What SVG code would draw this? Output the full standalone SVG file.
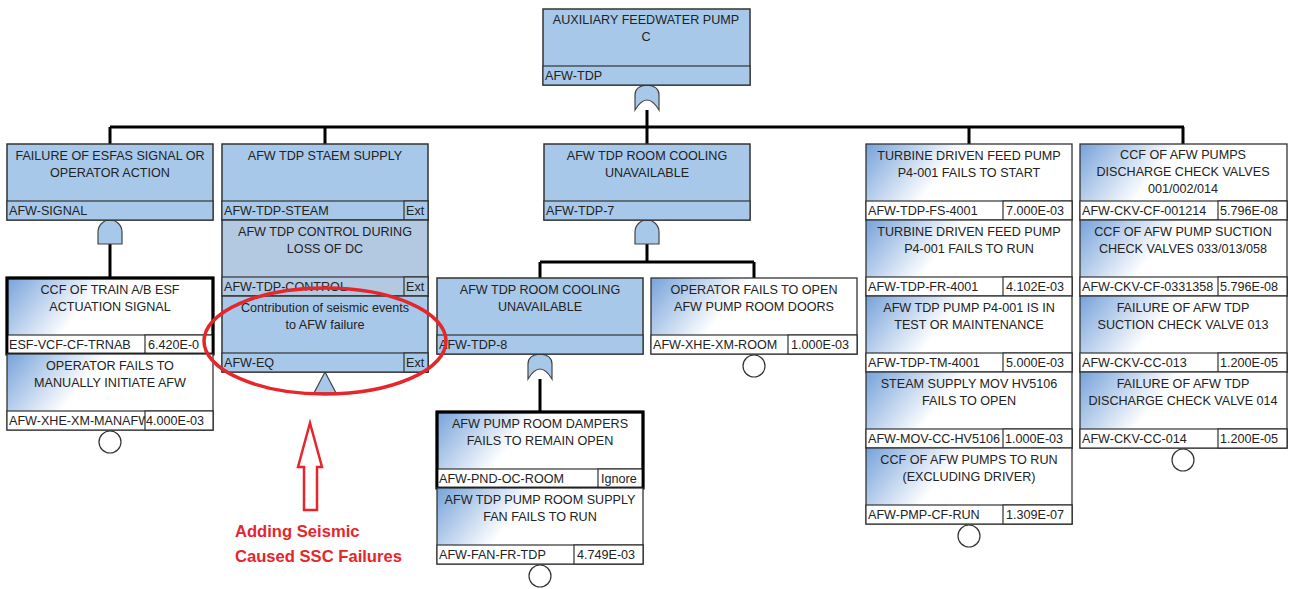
<svg xmlns="http://www.w3.org/2000/svg" xmlns:xlink="http://www.w3.org/1999/xlink" width="1291" height="589" viewBox="0 0 1291 589">
<style>
text{font-family:"Liberation Sans",Arial,sans-serif;font-size:12.6px;fill:#222}
.d{text-anchor:middle}
.gb{fill:#a8c8ea;stroke:#333;stroke-width:1.5}
.gb2{fill:#b3c9e2;stroke:#333;stroke-width:1.5}
.be{fill:url(#grad);stroke:#333;stroke-width:1.3}
.sel{fill:url(#grad);stroke:#000;stroke-width:2.8}
.row{fill:#fff;stroke:#333;stroke-width:1.2}
.grow{fill:#a8c8ea;stroke:#333;stroke-width:1.2}
.grow2{fill:#b3c9e2;stroke:#333;stroke-width:1.2}
.gate{fill:#a8c8ea;stroke:#444;stroke-width:1.2}
.ev{fill:#fff;stroke:#333;stroke-width:1.2}
.con{fill:none;stroke:#000;stroke-width:3}
.ann{fill:none;stroke:#e5262b;stroke-width:3.5}
.arr{fill:#fff;stroke:#e5262b;stroke-width:2.5}
.at{font-family:"Liberation Sans",Arial,sans-serif;font-weight:bold;font-size:16.6px;fill:#e5262b}
</style>
<defs>
<linearGradient id="grad" x1="0" y1="0" x2="1" y2="0.3">
<stop offset="0" stop-color="#76a2da"/>
<stop offset="0.45" stop-color="#ffffff"/>
<stop offset="1" stop-color="#ffffff"/>
</linearGradient>
<path id="and" class="gate" d="M-12,24 L-12,12 A12,12 0 0 1 12,12 L12,24 Z"/>
<path id="or" class="gate" d="M-12,25 L-12,10 Q-12,1 0,0 Q12,1 12,10 L12,25 Q0,5 -12,25 Z"/>
<path id="xfer" class="gate" d="M0,0 L11,21 L-11,21 Z"/>
<circle id="bev" class="ev" r="11"/>
</defs>

<g id="connectors">
<path class="con" d="M647,110 V127 M110,127 H1184 M110,127 V144 M325,127 V144 M647,127 V144 M969,127 V144 M1183,127 V144"/>
<path class="con" d="M110,244 V278"/>
<path class="con" d="M647,244 V262 M540,262 H754 M540,262 V278 M754,262 V278"/>
<path class="con" d="M540,379 V412"/>
</g>

<g id="gates">
<use xlink:href="#or" x="647" y="85"/>
<use xlink:href="#and" x="110" y="220"/>
<use xlink:href="#and" x="647" y="220"/>
<use xlink:href="#or" x="540" y="354"/>
<use xlink:href="#xfer" x="325" y="372"/>
<use xlink:href="#bev" x="110" y="442"/>
<use xlink:href="#bev" x="754" y="366"/>
<use xlink:href="#bev" x="540" y="576"/>
<use xlink:href="#bev" x="969" y="536"/>
<use xlink:href="#bev" x="1183" y="460"/>
</g>

<g id="AFW-TDP">
<rect class="gb" x="543" y="9" width="207" height="76"/>
<text class="d" x="646" y="24">AUXILIARY FEEDWATER PUMP</text>
<text class="d" x="646" y="41">C</text>
<rect class="grow" x="543" y="66" width="207" height="19"/>
<text x="545" y="80">AFW-TDP</text>
</g>

<g id="AFW-SIGNAL">
<rect class="gb" x="7" y="144" width="206" height="76"/>
<text class="d" x="110" y="160">FAILURE OF ESFAS SIGNAL OR</text>
<text class="d" x="110" y="177">OPERATOR ACTION</text>
<rect class="grow" x="7" y="201" width="206" height="19"/>
<text x="9" y="215">AFW-SIGNAL</text>
</g>

<g id="ESF-VCF-CF-TRNAB">
<rect class="sel" x="7" y="278" width="206" height="76"/>
<text class="d" x="110" y="294">CCF OF TRAIN A/B ESF</text>
<text class="d" x="110" y="311">ACTUATION SIGNAL</text>
<rect class="row" x="7" y="335" width="206" height="19"/>
<text x="9" y="349">ESF-VCF-CF-TRNAB</text>
<rect class="row" x="145" y="335" width="68" height="19"/>
<text x="148" y="349">6.420E-0</text>
<rect x="7" y="278" width="206" height="76" fill="none" stroke="#000" stroke-width="2.8"/>
</g>

<g id="AFW-XHE-XM-MANAFW">
<rect class="be" x="7" y="354" width="206" height="76"/>
<text class="d" x="110" y="370">OPERATOR FAILS TO</text>
<text class="d" x="110" y="387">MANUALLY INITIATE AFW</text>
<rect class="row" x="7" y="411" width="206" height="19"/>
<text x="9" y="425">AFW-XHE-XM-MANAFW</text>
<rect class="row" x="145" y="411" width="68" height="19"/>
<text x="146" y="425">4.000E-03</text>
</g>

<g id="AFW-TDP-STEAM">
<rect class="gb" x="222" y="144" width="206" height="76"/>
<text class="d" x="325" y="160">AFW TDP STAEM SUPPLY</text>
<rect class="grow" x="222" y="201" width="206" height="19"/>
<text x="224" y="215">AFW-TDP-STEAM</text>
<rect class="grow" x="404" y="201" width="24" height="19"/>
<text x="406" y="215">Ext</text>
</g>

<g id="AFW-TDP-CONTROL">
<rect class="gb2" x="222" y="220" width="206" height="76"/>
<text class="d" x="325" y="236">AFW TDP CONTROL DURING</text>
<text class="d" x="325" y="253">LOSS OF DC</text>
<rect class="grow2" x="222" y="277" width="206" height="19"/>
<text x="224" y="291">AFW-TDP-CONTROL</text>
<rect class="grow2" x="404" y="277" width="24" height="19"/>
<text x="406" y="291">Ext</text>
</g>

<g id="AFW-EQ">
<rect class="gb" x="222" y="296" width="206" height="76"/>
<text class="d" x="325" y="312">Contribution of seismic events</text>
<text class="d" x="325" y="329">to AFW failure</text>
<rect class="grow" x="222" y="353" width="206" height="19"/>
<text x="224" y="367">AFW-EQ</text>
<rect class="grow" x="404" y="353" width="24" height="19"/>
<text x="406" y="367">Ext</text>
</g>

<g id="AFW-TDP-7">
<rect class="gb" x="544" y="144" width="206" height="76"/>
<text class="d" x="647" y="160">AFW TDP ROOM COOLING</text>
<text class="d" x="647" y="177">UNAVAILABLE</text>
<rect class="grow" x="544" y="201" width="206" height="19"/>
<text x="546" y="215">AFW-TDP-7</text>
</g>

<g id="AFW-TDP-8">
<rect class="gb" x="437" y="278" width="206" height="76"/>
<text class="d" x="540" y="294">AFW TDP ROOM COOLING</text>
<text class="d" x="540" y="311">UNAVAILABLE</text>
<rect class="grow" x="437" y="335" width="206" height="19"/>
<text x="439" y="349">AFW-TDP-8</text>
</g>

<g id="AFW-PND-OC-ROOM">
<rect class="sel" x="437" y="412" width="206" height="76"/>
<text class="d" x="540" y="428">AFW PUMP ROOM DAMPERS</text>
<text class="d" x="540" y="445">FAILS TO REMAIN OPEN</text>
<rect class="row" x="437" y="469" width="206" height="19"/>
<text x="439" y="483">AFW-PND-OC-ROOM</text>
<rect class="row" x="598" y="469" width="45" height="19"/>
<text x="601" y="483">Ignore</text>
<rect x="437" y="412" width="206" height="76" fill="none" stroke="#000" stroke-width="2.8"/>
</g>

<g id="AFW-FAN-FR-TDP">
<rect class="be" x="437" y="488" width="206" height="76"/>
<text class="d" x="540" y="504">AFW TDP PUMP ROOM SUPPLY</text>
<text class="d" x="540" y="521">FAN FAILS TO RUN</text>
<rect class="row" x="437" y="545" width="206" height="19"/>
<text x="439" y="559">AFW-FAN-FR-TDP</text>
<rect class="row" x="574" y="545" width="69" height="19"/>
<text x="577" y="559">4.749E-03</text>
</g>

<g id="AFW-XHE-XM-ROOM">
<rect class="be" x="651" y="278" width="206" height="76"/>
<text class="d" x="754" y="294">OPERATOR FAILS TO OPEN</text>
<text class="d" x="754" y="311">AFW PUMP ROOM DOORS</text>
<rect class="row" x="651" y="335" width="206" height="19"/>
<text x="653" y="349">AFW-XHE-XM-ROOM</text>
<rect class="row" x="788" y="335" width="69" height="19"/>
<text x="791" y="349">1.000E-03</text>
</g>

<g id="AFW-TDP-FS-4001">
<rect class="be" x="866" y="144" width="206" height="76"/>
<text class="d" x="969" y="160">TURBINE DRIVEN FEED PUMP</text>
<text class="d" x="969" y="177">P4-001 FAILS TO START</text>
<rect class="row" x="866" y="201" width="206" height="19"/>
<text x="868" y="215">AFW-TDP-FS-4001</text>
<rect class="row" x="1003" y="201" width="69" height="19"/>
<text x="1006" y="215">7.000E-03</text>
</g>

<g id="AFW-TDP-FR-4001">
<rect class="be" x="866" y="220" width="206" height="76"/>
<text class="d" x="969" y="236">TURBINE DRIVEN FEED PUMP</text>
<text class="d" x="969" y="253">P4-001 FAILS TO RUN</text>
<rect class="row" x="866" y="277" width="206" height="19"/>
<text x="868" y="291">AFW-TDP-FR-4001</text>
<rect class="row" x="1003" y="277" width="69" height="19"/>
<text x="1006" y="291">4.102E-03</text>
</g>

<g id="AFW-TDP-TM-4001">
<rect class="be" x="866" y="296" width="206" height="76"/>
<text class="d" x="969" y="312">AFW TDP PUMP P4-001 IS IN</text>
<text class="d" x="969" y="329">TEST OR MAINTENANCE</text>
<rect class="row" x="866" y="353" width="206" height="19"/>
<text x="868" y="367">AFW-TDP-TM-4001</text>
<rect class="row" x="1003" y="353" width="69" height="19"/>
<text x="1006" y="367">5.000E-03</text>
</g>

<g id="AFW-MOV-CC-HV5106">
<rect class="be" x="866" y="372" width="206" height="76"/>
<text class="d" x="969" y="388">STEAM SUPPLY MOV HV5106</text>
<text class="d" x="969" y="405">FAILS TO OPEN</text>
<rect class="row" x="866" y="429" width="206" height="19"/>
<text x="868" y="443">AFW-MOV-CC-HV5106</text>
<rect class="row" x="1003" y="429" width="69" height="19"/>
<text x="1005" y="443">1.000E-03</text>
</g>

<g id="AFW-PMP-CF-RUN">
<rect class="be" x="866" y="448" width="206" height="76"/>
<text class="d" x="969" y="464">CCF OF AFW PUMPS TO RUN</text>
<text class="d" x="969" y="481">(EXCLUDING DRIVER)</text>
<rect class="row" x="866" y="505" width="206" height="19"/>
<text x="868" y="519">AFW-PMP-CF-RUN</text>
<rect class="row" x="1003" y="505" width="69" height="19"/>
<text x="1006" y="519">1.309E-07</text>
</g>

<g id="AFW-CKV-CF-001214">
<rect class="be" x="1080" y="144" width="207" height="76"/>
<text class="d" x="1183" y="159">CCF OF AFW PUMPS</text>
<text class="d" x="1183" y="176">DISCHARGE CHECK VALVES</text>
<text class="d" x="1183" y="193">001/002/014</text>
<rect class="row" x="1080" y="201" width="207" height="19"/>
<text x="1082" y="215">AFW-CKV-CF-001214</text>
<rect class="row" x="1218" y="201" width="69" height="19"/>
<text x="1220" y="215">5.796E-08</text>
</g>

<g id="AFW-CKV-CF-0331358">
<rect class="be" x="1080" y="220" width="207" height="76"/>
<text class="d" x="1183" y="236">CCF OF AFW PUMP SUCTION</text>
<text class="d" x="1183" y="253">CHECK VALVES 033/013/058</text>
<rect class="row" x="1080" y="277" width="207" height="19"/>
<text x="1082" y="291">AFW-CKV-CF-0331358</text>
<rect class="row" x="1218" y="277" width="69" height="19"/>
<text x="1220" y="291">5.796E-08</text>
</g>

<g id="AFW-CKV-CC-013">
<rect class="be" x="1080" y="296" width="207" height="76"/>
<text class="d" x="1183" y="312">FAILURE OF AFW TDP</text>
<text class="d" x="1183" y="329">SUCTION CHECK VALVE 013</text>
<rect class="row" x="1080" y="353" width="207" height="19"/>
<text x="1082" y="367">AFW-CKV-CC-013</text>
<rect class="row" x="1218" y="353" width="69" height="19"/>
<text x="1220" y="367">1.200E-05</text>
</g>

<g id="AFW-CKV-CC-014">
<rect class="be" x="1080" y="372" width="207" height="76"/>
<text class="d" x="1183" y="388">FAILURE OF AFW TDP</text>
<text class="d" x="1183" y="405">DISCHARGE CHECK VALVE 014</text>
<rect class="row" x="1080" y="429" width="207" height="19"/>
<text x="1082" y="443">AFW-CKV-CC-014</text>
<rect class="row" x="1218" y="429" width="69" height="19"/>
<text x="1220" y="443">1.200E-05</text>
</g>

<g id="annotation">
<ellipse class="ann" cx="325" cy="341" rx="121" ry="53"/>
<path class="arr" d="M310,423 L322,467 L317,467 L317,510 L304,510 L304,467 L298,467 Z"/>
<text class="at" x="235" y="537">Adding Seismic</text>
<text class="at" x="235" y="562">Caused SSC Failures</text>
</g>
</svg>
